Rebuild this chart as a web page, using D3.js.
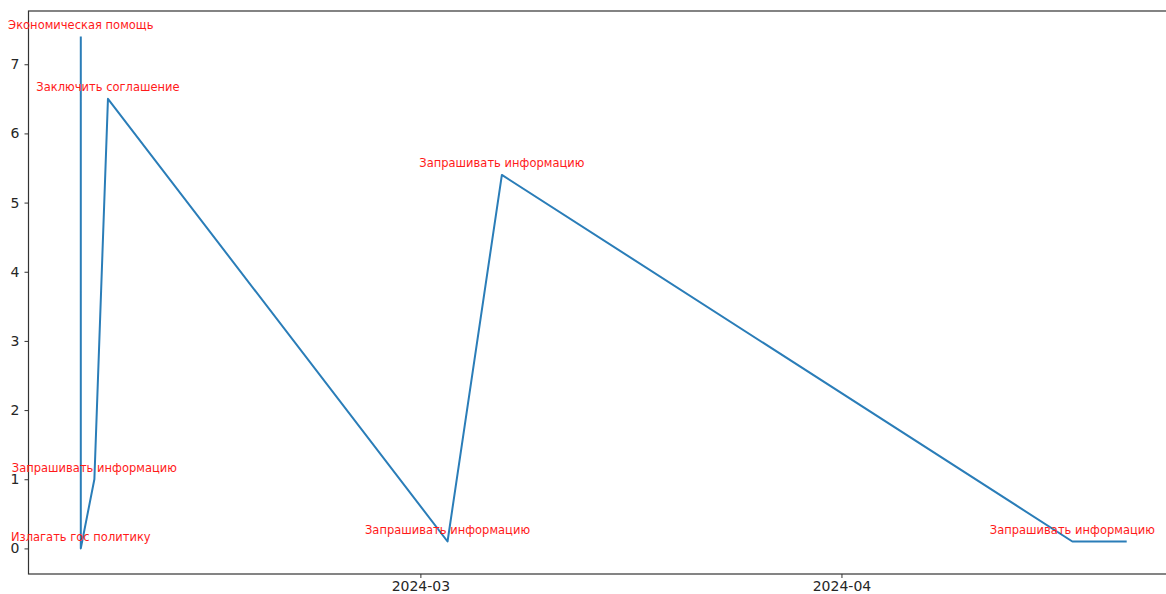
<!DOCTYPE html>
<html>
<head>
<meta charset="utf-8">
<script src="https://cdn.jsdelivr.net/npm/d3@7"></script>
<style>
  body { margin: 0; background: #fff; }
  svg { display: block; }
  .tick text { font-family: "DejaVu Sans", sans-serif; font-size: 14px; fill: #262626; }
  .ann { font-family: "DejaVu Sans", sans-serif; font-size: 11.5px; fill: #ff1a1a; }
</style>
</head>
<body>
<svg id="chart"></svg>
<script>
// data
let dates = ['2024-02-05', '2024-02-05', '2024-02-06', '2024-02-07', '2024-03-03', '2024-03-07', '2024-04-18', '2024-04-22']
let values = [7.4, 0, 1, 6.5, 0.1, 5.4, 0.1, 0.1]
let labels = ['Экономическая помощь', 'Излагать гос политику', 'Запрашивать информацию', 'Заключить соглашение',
    'Запрашивать информацию', 'Запрашивать информацию', 'Запрашивать информацию', '']
let xTicks = ['2024-03-01', '2024-04-01']
let xTickLabels = ['2024-03', '2024-04']
let yTicks = [0, 1, 2, 3, 4, 5, 6, 7]

const W = 1166, H = 594;
const mLeft = 28.5, mTop = 11, mBottom = 574, mRight = 1179;

var parse = d3.utcParse('%Y-%m-%d');
var pts = dates.map((d, i) => ({ date: parse(d), value: values[i], label: labels[i] }));

var svg = d3.select('#chart').attr('width', W).attr('height', H);

// matplotlib style 5% margins
var xExt = d3.extent(pts, d => d.date);
var xPad = (xExt[1] - xExt[0]) * 0.05;
var x = d3.scaleUtc()
    .domain([new Date(+xExt[0] - xPad), new Date(+xExt[1] + xPad)])
    .range([mLeft, mRight]);

var yExt = d3.extent(values);
var yPad = (yExt[1] - yExt[0]) * 0.05;
var y = d3.scaleLinear()
    .domain([yExt[0] - yPad, yExt[1] + yPad])
    .range([mBottom, mTop]);

var xAxis = d3.axisBottom(x)
    .tickValues(xTicks.map(parse))
    .tickFormat((d, i) => xTickLabels[i])
    .tickSize(4)
    .tickPadding(3);
svg.append('g')
    .attr('transform', 'translate(0,' + mBottom + ')')
    .call(xAxis);

var yAxis = d3.axisLeft(y)
    .tickValues(yTicks)
    .tickFormat(d3.format('d'))
    .tickSize(4)
    .tickPadding(5);
svg.append('g')
    .attr('transform', 'translate(' + mLeft + ',0)')
    .call(yAxis);

svg.selectAll('.domain').remove();
svg.selectAll('.tick line').attr('stroke', '#333').attr('stroke-width', 1);

// frame
svg.append('rect')
    .attr('x', mLeft).attr('y', mTop)
    .attr('width', mRight - mLeft).attr('height', mBottom - mTop)
    .attr('fill', 'none')
    .attr('stroke', '#333')
    .attr('stroke-width', 1.2);

var line = d3.line().x(d => x(d.date)).y(d => y(d.value));
svg.append('path')
    .datum(pts)
    .attr('d', line)
    .attr('fill', 'none')
    .attr('stroke', '#2a7db8')
    .attr('stroke-width', 2)
    .attr('stroke-linejoin', 'round');

svg.append('g')
    .selectAll('text')
    .data(pts.filter(d => d.label))
    .enter()
    .append('text')
    .attr('class', 'ann')
    .attr('text-anchor', 'middle')
    .attr('x', d => x(d.date))
    .attr('y', d => y(d.value) - 7.5)
    .text(d => d.label);
</script>
</body>
</html>
